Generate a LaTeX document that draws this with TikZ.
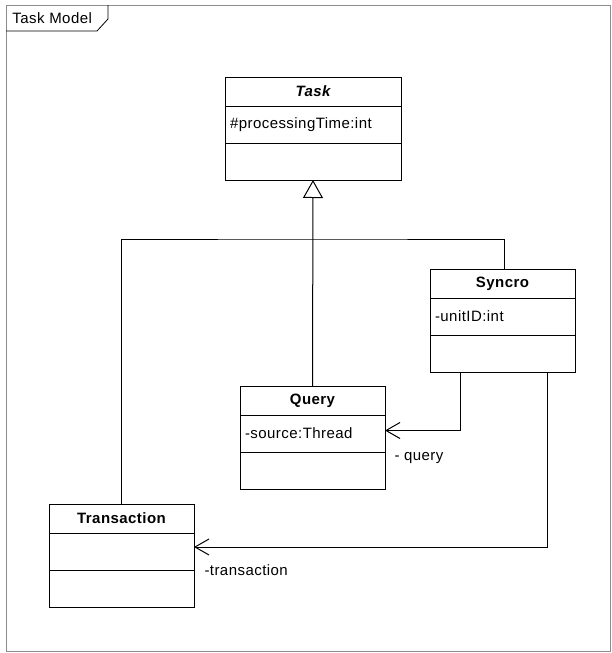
\documentclass[tikz,border=0pt]{standalone}
\usepackage{fontspec}
\setmainfont[LetterSpace=3]{Liberation Sans}
\usetikzlibrary{arrows.meta, positioning, calc}
\tikzset{uml font/.style={font=\fontsize{15}{18}\selectfont}}
\tikzset{classname/.style={draw,minimum width=145pt,minimum height=29pt,inner sep=0pt,outer sep=0pt,font=\fontsize{15}{18}\selectfont\bfseries}}
\tikzset{classpart/.style={draw,minimum width=145pt,minimum height=37pt,text width=135pt,align=left,inner xsep=5pt,inner ysep=0pt,outer sep=0pt,uml font}}
\tikzset{generalization/.style={-{Triangle[open,length=18pt,width=20pt]}}}
\tikzset{assoc/.style={-{Straight Barb[length=14pt,width=16pt]}}}
\tikzset{assoc label/.style={inner sep=0pt,uml font}}

\begin{document}
\begin{tikzpicture}[x=1pt,y=-1pt,line width=1pt,node distance=0pt]
                    \useasboundingbox (0,0) rectangle (611,653);
                    % frame and tab
                    \draw[black!45] (6,5) rectangle (610,651);
                    \draw[line width=0.8pt] (6,31) -- (97,31) -- (108,19) -- (108,5);
                    \node[uml font,anchor=west,inner sep=0pt] (title) at (12,18) {Task Model};

                    % classes
                    \node[classname,minimum width=176pt,anchor=north west](taskname) at (225,77) {\itshape Task};
                    \node[classpart,minimum width=176pt,text width=166pt](taskattr)[below=of taskname]{\#processingTime:int};
                    \node[classpart,minimum width=176pt,text width=166pt](taskops)[below=of taskattr]{};

                    \node[classname,anchor=north west](syncname) at (430,269) {Syncro};
                    \node[classpart](syncattr)[below=of syncname]{-unitID:int};
                    \node[classpart](syncops)[below=of syncattr]{};

                    \node[classname,anchor=north west](queryname) at (240,386) {Query};
                    \node[classpart](queryattr)[below=of queryname]{-source:Thread};
                    \node[classpart](queryops)[below=of queryattr]{};

                    \node[classname,anchor=north west](transname) at (49,504) {Transaction};
                    \node[classpart](transattr)[below=of transname]{};
                    \node[classpart](transops)[below=of transattr]{};

                    % generalizations
                    \coordinate (branch) at (queryname.north |- 0,239);
                    \draw[generalization] (queryname.north) -- (taskops.south);
                    \draw (transname.north) |- (branch) -| ([xshift=1.5pt]syncname.north);

                    % associations
                    \draw[assoc] ([xshift=30pt]syncops.south west) |- ([yshift=3pt]queryattr.east)
                        node[assoc label,anchor=north west,xshift=9pt,yshift=-21pt](querylabel){- query};
                    \draw[assoc] ([xshift=117pt]syncops.south west) |- ([yshift=4.5pt]transattr.east)
                        node[assoc label,anchor=north west,xshift=10pt,yshift=-17pt](translabel){-transaction};
                \end{tikzpicture}
\end{document}
